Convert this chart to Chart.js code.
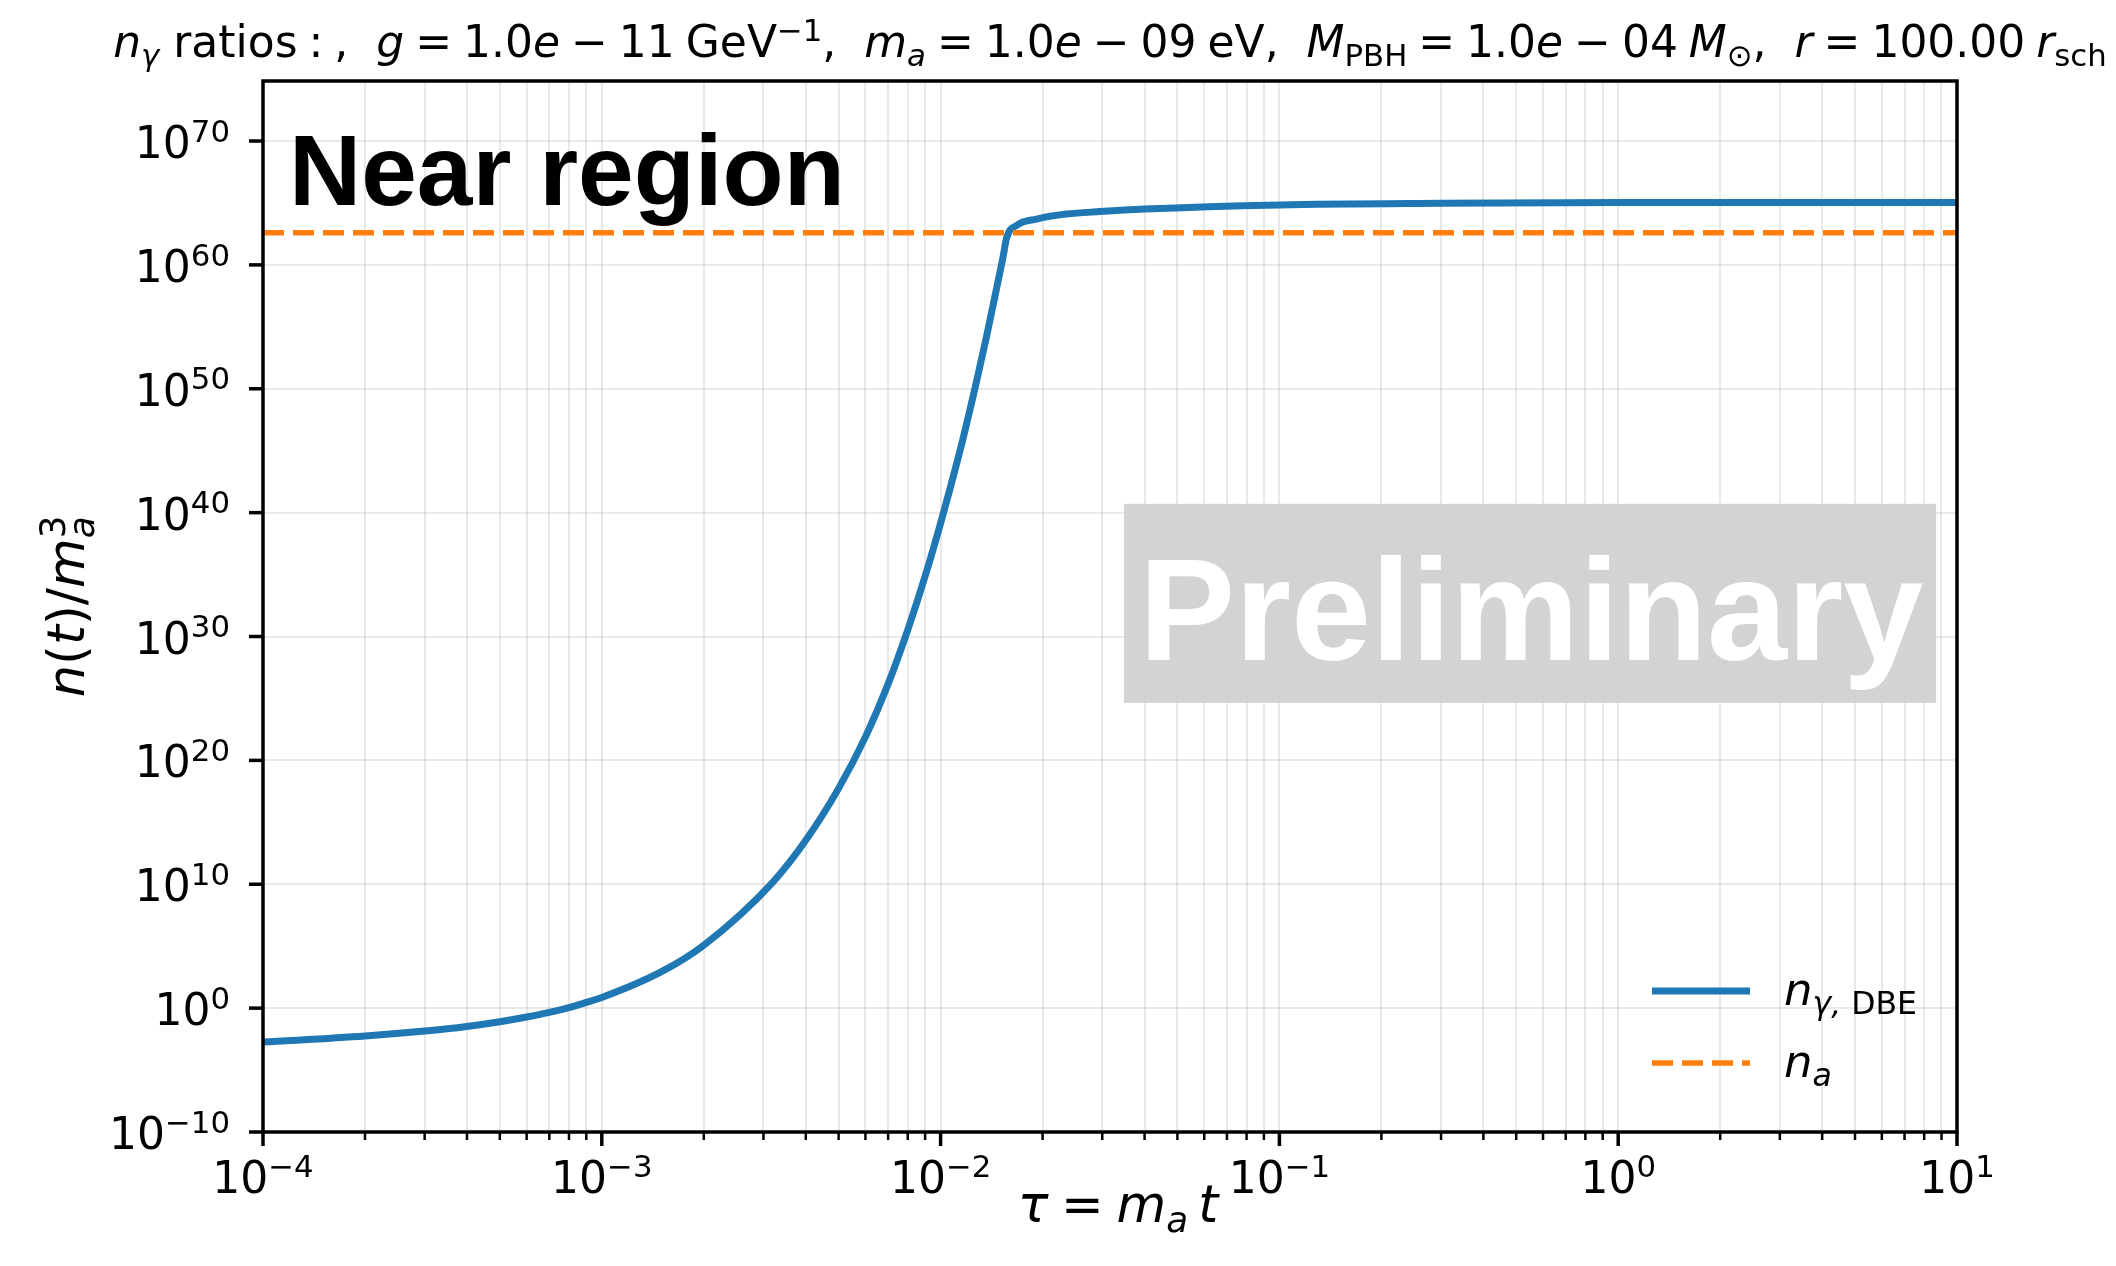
<!DOCTYPE html>
<html>
<head>
  <meta charset="utf-8" />
  <title>n_gamma ratios, near region</title>
  <style>
    html, body { margin: 0; padding: 0; background: #fff; }
    #wrap { width: 2116px; height: 1266px; }
  </style>
</head>
<body>
<div id="wrap"><canvas id="chart" width="2116" height="1266"></canvas></div>
<script src="https://cdn.jsdelivr.net/npm/chart.js@4.4.1/dist/chart.umd.min.js"></script>
<script>
// photon number from DBE, n_gamma / m_a^3, against tau = m_a t
const tau = [1e-4, 2e-4, 3e-4, 4e-4, 5e-4, 6e-4, 7e-4, 8e-4, 9e-4, 1e-3,
  1.5e-3, 2e-3, 3.2e-3, 4e-3, 5e-3, 6e-3, 7e-3, 8e-3, 9e-3, 1e-2,
  1.066e-2, 1.167e-2, 1.278e-2, 1.368e-2, 1.464e-2, 1.531e-2, 1.567e-2, 1.68e-2,
  1.92e-2, 2.35e-2, 2.95e-2, 4.0e-2, 1e-1, 3e-1, 1, 10];
const nGamma = [1.8e-3, 5.6e-3, 1.4e-2, 3.3e-2, 7.9e-2, 1.9e-1, 4.5e-1, 1.1, 2.9, 7.2,
  8.7e2, 1.2e5, 1.5e10, 3.5e13, 5.5e17, 7.9e21, 1.5e26, 3.5e30, 7.2e34, 1.4e39,
  8.5e41, 1.2e46, 4.4e50, 1.9e54, 1.4e58, 5.4e60, 1.6e62, 1.6e63,
  5.0e63, 1.26e64, 2.0e64, 3.2e64, 6.9e64, 9.3e64, 1.07e65, 1.1e65];

// axion number, constant
const tauAxion = [1e-4, 10];
const nAxion = [4.0e62, 4.0e62];

// axis ranges and ticks
const xRange = [1e-4, 10];
const yRange = [1e-10, 7e74];
const xMajor = [1e-4, 1e-3, 1e-2, 1e-1, 1, 10];
const yMajor = [1e-10, 1, 1e10, 1e20, 1e30, 1e40, 1e50, 1e60, 1e70];

const BLUE = '#1f77b4';
const ORANGE = '#ff7f0e';
const GRID = 'rgba(0,0,0,0.085)';
const MATHFONT = '"DejaVu Sans"';

const xAll = [];
for (const m of xMajor) {
  xAll.push(m);
  if (m < xRange[1]) for (let k = 2; k <= 9; k++) xAll.push(m * k);
}

// lays out a run list (italic / sub / sup pieces) like mathtext does
function layoutMath(ctx, runs, size) {
  let cx = 0, keepX = null, keepW = 0;
  const items = [];
  for (const r of runs) {
    const fs = r.lvl ? size * 0.7 : size;
    const font = (r.it ? 'italic ' : '') + fs + 'px ' + MATHFONT;
    ctx.font = font;
    const w = ctx.measureText(r.t).width;
    const px = keepX !== null ? keepX : cx;
    const dy = r.lvl > 0 ? -0.37 * size : r.lvl < 0 ? 0.2 * size : 0;
    items.push({ t: r.t, font, px, dy });
    if (r.keep) { keepX = px; keepW = w; }
    else if (keepX !== null) { cx = keepX + Math.max(keepW, w); keepX = null; }
    else cx = px + w;
  }
  return { items, total: cx };
}

function drawMath(ctx, runs, size, x, y, align, color) {
  const { items, total } = layoutMath(ctx, runs, size);
  const x0 = align === 'center' ? x - total / 2 : align === 'right' ? x - total : x;
  ctx.save();
  ctx.fillStyle = color || '#000';
  ctx.textAlign = 'left';
  ctx.textBaseline = 'alphabetic';
  for (const it of items) {
    ctx.font = it.font;
    ctx.fillText(it.t, x0 + it.px, y + it.dy);
  }
  ctx.restore();
  return total;
}

function expText(v) {
  const e = Math.round(Math.log10(v));
  return (e < 0 ? '\u2212' : '') + Math.abs(e);
}

// narrower math spacing
const SP = '\u2005';
const titleRuns = [
  { t: 'n', it: 1 }, { t: 'γ', it: 1, lvl: -1 },
  { t: ' ratios' + SP + ':' + SP + ',  ' },
  { t: 'g', it: 1 }, { t: SP + '=' + SP + '1.0' }, { t: 'e', it: 1 }, { t: SP + '\u2212' + SP + '11' + SP + 'GeV' }, { t: '\u22121', lvl: 1 },
  { t: ',  ' }, { t: 'm', it: 1 }, { t: 'a', it: 1, lvl: -1 }, { t: SP + '=' + SP + '1.0' }, { t: 'e', it: 1 }, { t: SP + '\u2212' + SP + '09' + SP + 'eV,  ' },
  { t: 'M', it: 1 }, { t: 'PBH', lvl: -1 }, { t: SP + '=' + SP + '1.0' }, { t: 'e', it: 1 }, { t: SP + '\u2212' + SP + '04' + SP },
  { t: 'M', it: 1 }, { t: '⊙', lvl: -1 },
  { t: ',  ' }, { t: 'r', it: 1 }, { t: SP + '=' + SP + '100.00' + SP }, { t: 'r', it: 1 }, { t: 'sch', lvl: -1 }
];
const xLabelRuns = [
  { t: 'τ', it: 1 }, { t: SP + '=' + SP }, { t: 'm', it: 1 }, { t: 'a', it: 1, lvl: -1 }, { t: '\u2009' }, { t: 't', it: 1 }
];
const yLabelRuns = [
  { t: 'n', it: 1 }, { t: '(' }, { t: 't', it: 1 }, { t: ')/' }, { t: 'm', it: 1 },
  { t: 'a', it: 1, lvl: -1, keep: 1 }, { t: '3', lvl: 1 }
];
const legendItems = [
  { color: BLUE, dash: [], width: 7, runs: [{ t: 'n', it: 1 }, { t: 'γ,', it: 1, lvl: -1 }, { t: ' DBE', lvl: -1 }] },
  { color: ORANGE, dash: [21, 9], width: 5.5, runs: [{ t: 'n', it: 1 }, { t: 'a', it: 1, lvl: -1 }] }
];

const decorations = {
  id: 'decorations',
  afterDatasetsDraw(chart) {
    const { ctx, chartArea: a } = chart;
    const w = a.right - a.left, h = a.bottom - a.top;

    // "Near region" tag, upper left
    ctx.save();
    ctx.font = 'bold 100px "Liberation Sans", Arial, sans-serif';
    ctx.fillStyle = '#000';
    ctx.textBaseline = 'alphabetic';
    ctx.fillText('Near region', a.left + 26, a.top + 124);
    ctx.restore();

    // "Preliminary" stamp
    const cx = a.left + 0.748 * w, cy = a.top + 0.497 * h;
    ctx.save();
    ctx.fillStyle = '#d3d3d3';
    ctx.fillRect(cx - 406, cy - 99.5, 812, 199);
    ctx.font = 'bold 144px "Liberation Sans", Arial, sans-serif';
    ctx.fillStyle = '#fff';
    ctx.textAlign = 'center';
    ctx.textBaseline = 'alphabetic';
    ctx.fillText('Preliminary', cx + 1, cy + 57);
    ctx.restore();

    // legend, no frame
    legendItems.forEach((it, i) => {
      const ly = a.bottom - 141 + i * 72;
      ctx.save();
      ctx.strokeStyle = it.color;
      ctx.lineWidth = it.width;
      ctx.setLineDash(it.dash);
      ctx.beginPath();
      ctx.moveTo(a.right - 305, ly);
      ctx.lineTo(a.right - 207, ly);
      ctx.stroke();
      ctx.restore();
      drawMath(ctx, it.runs, 45, a.right - 173, ly + 14, 'left');
    });

    // axes frame
    ctx.save();
    ctx.strokeStyle = '#000';
    ctx.lineWidth = 3.5;
    ctx.strokeRect(a.left, a.top, w, h);
    ctx.restore();
  },
  afterDraw(chart) {
    const { ctx, chartArea: a } = chart;
    const xs = chart.scales.x, ys = chart.scales.y;
    ctx.save();
    ctx.strokeStyle = '#000';
    // x ticks: long at decades, short in between
    for (const v of xAll) {
      const px = xs.getPixelForValue(v);
      const major = xMajor.includes(v);
      ctx.lineWidth = major ? 3.5 : 2.5;
      ctx.beginPath();
      ctx.moveTo(px, a.bottom);
      ctx.lineTo(px, a.bottom + (major ? 14 : 8));
      ctx.stroke();
    }
    for (const v of yMajor) {
      const py = ys.getPixelForValue(v);
      ctx.lineWidth = 3.5;
      ctx.beginPath();
      ctx.moveTo(a.left, py);
      ctx.lineTo(a.left - 14, py);
      ctx.stroke();
    }
    ctx.restore();

    for (const v of xMajor) {
      drawMath(ctx, [{ t: '10' }, { t: expText(v), lvl: 1 }], 44, xs.getPixelForValue(v), a.bottom + 61, 'center');
    }
    for (const v of yMajor) {
      drawMath(ctx, [{ t: '10' }, { t: expText(v), lvl: 1 }], 44, a.left - 33, ys.getPixelForValue(v) + 17, 'right');
    }

    const midX = (a.left + a.right) / 2, midY = (a.top + a.bottom) / 2;
    drawMath(ctx, xLabelRuns, 51, midX + 8, a.bottom + 90, 'center');

    ctx.save();
    ctx.translate(84, midY);
    ctx.rotate(-Math.PI / 2);
    drawMath(ctx, yLabelRuns, 51, 0, 0, 'center');
    ctx.restore();

    // title sized to span the figure width
    const base = 34;
    const tw = layoutMath(ctx, titleRuns, base).total;
    const size = base * 1994 / tw;
    drawMath(ctx, titleRuns, size, midX, 57, 'center');
  }
};

new Chart(document.getElementById('chart'), {
  type: 'line',
  data: {
    datasets: [
      {
        label: 'n_gamma,DBE',
        data: tau.map((t, i) => ({ x: t, y: nGamma[i] })),
        borderColor: BLUE,
        borderWidth: 7,
        pointRadius: 0,
        cubicInterpolationMode: 'monotone',
        order: 2
      },
      {
        label: 'n_a',
        data: tauAxion.map((t, i) => ({ x: t, y: nAxion[i] })),
        borderColor: ORANGE,
        borderWidth: 5.5,
        borderDash: [21, 9],
        pointRadius: 0,
        order: 1
      }
    ]
  },
  options: {
    responsive: false,
    animation: false,
    devicePixelRatio: 1,
    layout: { padding: { left: 0, right: 159, top: 81, bottom: 0 } },
    plugins: { legend: { display: false }, tooltip: { enabled: false }, title: { display: false } },
    scales: {
      x: {
        type: 'logarithmic',
        min: xRange[0],
        max: xRange[1],
        afterBuildTicks: (s) => { s.ticks = xAll.map((v) => ({ value: v })); },
        afterFit: (s) => { s.height = 134; },
        ticks: { display: false, autoSkip: false },
        grid: { color: GRID, lineWidth: 2, drawTicks: false },
        border: { display: false }
      },
      y: {
        type: 'logarithmic',
        min: yRange[0],
        max: yRange[1],
        afterBuildTicks: (s) => { s.ticks = yMajor.map((v) => ({ value: v })); },
        afterFit: (s) => { s.width = 263; },
        ticks: { display: false, autoSkip: false },
        grid: { color: GRID, lineWidth: 2, drawTicks: false },
        border: { display: false }
      }
    }
  },
  plugins: [decorations]
});
</script>
</body>
</html>
